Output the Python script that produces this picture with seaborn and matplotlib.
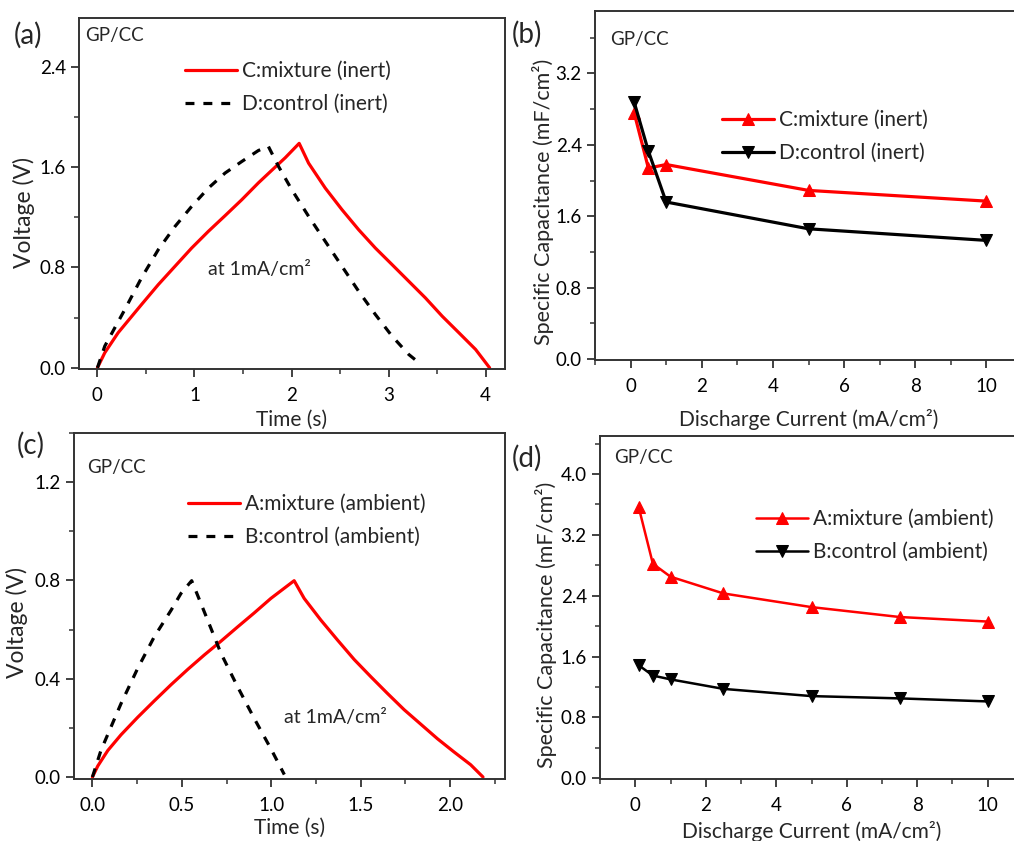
import numpy as np
import pandas as pd
import matplotlib
matplotlib.use("Agg")
import matplotlib.pyplot as plt
import seaborn as sns
from matplotlib.ticker import MultipleLocator, FormatStrFormatter

# ---------------- data ----------------
# (a) GCD inert
a_mix_t = [0.0, 0.076, 0.213, 0.454, 0.627, 0.80, 0.971, 1.143, 1.315, 1.487, 1.659, 1.831, 1.935, 2.079,
           2.176, 2.348, 2.52, 2.692, 2.864, 3.036, 3.208, 3.38, 3.553, 3.725, 3.897, 4.041]
a_mix_v = [0.0, 0.12, 0.279, 0.504, 0.663, 0.81, 0.955, 1.088, 1.213, 1.34, 1.475, 1.60, 1.675, 1.79,
           1.632, 1.433, 1.261, 1.101, 0.955, 0.823, 0.69, 0.557, 0.411, 0.279, 0.146, 0.0]
a_ctl_t = [0.0, 0.076, 0.282, 0.454, 0.627, 0.80, 0.971, 1.143, 1.315, 1.487, 1.659, 1.762,
           1.866, 2.003, 2.176, 2.348, 2.52, 2.692, 2.864, 3.036, 3.208, 3.329]
a_ctl_v = [0.0, 0.173, 0.464, 0.717, 0.942, 1.128, 1.287, 1.433, 1.553, 1.645, 1.733, 1.765,
           1.606, 1.42, 1.208, 1.008, 0.809, 0.61, 0.425, 0.252, 0.106, 0.03]

# (b) capacitance inert
b_current = [0.1, 0.5, 1, 5, 10]
b_mix = [2.76, 2.14, 2.18, 1.89, 1.77]
b_ctl = [2.88, 2.33, 1.76, 1.46, 1.33]

# (c) GCD ambient
c_mix_t = [0.0, 0.030, 0.086, 0.16, 0.253, 0.346, 0.44, 0.533, 0.626, 0.719, 0.812, 0.905, 0.998, 1.128,
           1.184, 1.277, 1.371, 1.464, 1.557, 1.65, 1.743, 1.836, 1.929, 2.022, 2.115, 2.184]
c_mix_v = [0.0, 0.045, 0.108, 0.172, 0.243, 0.31, 0.376, 0.438, 0.497, 0.553, 0.611, 0.668, 0.727, 0.799,
           0.727, 0.639, 0.557, 0.478, 0.408, 0.34, 0.274, 0.215, 0.156, 0.102, 0.05, 0.0]
c_ctl_t = [0.0, 0.048, 0.104, 0.16, 0.253, 0.346, 0.44, 0.495, 0.555,
           0.588, 0.644, 0.719, 0.812, 0.905, 0.998, 1.073]
c_ctl_v = [0.0, 0.109, 0.204, 0.299, 0.442, 0.571, 0.679, 0.747, 0.799,
           0.74, 0.639, 0.503, 0.367, 0.238, 0.115, 0.01]

# (d) capacitance ambient
d_current = [0.1, 0.5, 1, 2.5, 5, 7.5, 10]
d_mix = [3.56, 2.82, 2.65, 2.43, 2.25, 2.12, 2.06]
d_ctl = [1.485, 1.35, 1.30, 1.175, 1.08, 1.05, 1.01]

# ---------------- style ----------------
sns.set_theme(style="ticks")
plt.rcParams['font.family'] = ['Lato', 'DejaVu Sans']

W, H = 1014, 841
fig = plt.figure(figsize=(W / 100, H / 100), dpi=100)

def px_axes(l, t, r, b):
    return fig.add_axes([l / W, 1 - b / H, (r - l) / W, (b - t) / H])

TICK_FS = 13.5
XLAB_FS = 15
VLAB_FS = 16.5
CLAB_FS = 15.5
LEG_FS = 15
NOTE_FS = 14

def style_axes(ax):
    for s in ax.spines.values():
        s.set_linewidth(1.4)
        s.set_color('#333333')
    ax.tick_params(which='major', direction='out', length=6, width=1.3,
                   labelsize=TICK_FS, colors='#333333', labelcolor='black',
                   top=False, right=False)
    ax.tick_params(which='minor', direction='out', length=3.5, width=1.1,
                   colors='#333333', top=False, right=False)
    ax.tick_params(axis='x', which='major', pad=7)

red = '#ff0000'
dash = (0, (2.8, 2.8))

def leg(ax, x, y):
    ax.legend(loc='upper left', bbox_to_anchor=(x, y), frameon=False,
              fontsize=LEG_FS, handlelength=2.5, handletextpad=0.25, borderpad=0,
              borderaxespad=0, labelspacing=0.62)

# ---- (a) ----
ax = px_axes(79, 18, 505, 369)
sns.lineplot(x=a_mix_t, y=a_mix_v, ax=ax, color=red, lw=2.3, label='C:mixture (inert)',
             estimator=None, sort=False)
sns.lineplot(x=a_ctl_t, y=a_ctl_v, ax=ax, color='black', lw=2.3, label='D:control (inert)',
             estimator=None, sort=False, linestyle=dash)
ax.set_xlim(-0.19, 4.2)
ax.set_ylim(-0.01, 2.79)
ax.xaxis.set_major_locator(MultipleLocator(1))
ax.xaxis.set_minor_locator(MultipleLocator(0.5))
ax.yaxis.set_major_locator(MultipleLocator(0.8))
ax.yaxis.set_minor_locator(MultipleLocator(0.4))
ax.yaxis.set_major_formatter(FormatStrFormatter('%.1f'))
ax.set_xlabel('Time (s)', fontsize=XLAB_FS, labelpad=4)
ax.set_ylabel('Voltage (V)', fontsize=VLAB_FS)
ax.yaxis.set_label_coords(-44 / 426, 0.447)
style_axes(ax)
ax.text(1.14, 0.78, 'at 1mA/cm²', fontsize=NOTE_FS, va='center', ha='left')
ax.text(6 / 426, 1 - 17 / 351, 'GP/CC', transform=ax.transAxes, fontsize=13.5, va='center')
leg(ax, (185 - 79) / 426, 1 - (61 - 18) / 351)

# ---- (b) ----
ax = px_axes(595, 11, 1022, 360)
sns.lineplot(x=b_current, y=b_mix, ax=ax, color=red, lw=2.3, marker='^', markersize=9,
             markeredgecolor=red, label='C:mixture (inert)')
sns.lineplot(x=b_current, y=b_ctl, ax=ax, color='black', lw=2.3, marker='v', markersize=9,
             markeredgecolor='black', label='D:control (inert)')
ax.set_xlim(-1, 11)
ax.set_ylim(-0.01, 3.9)
ax.xaxis.set_major_locator(MultipleLocator(2))
ax.xaxis.set_minor_locator(MultipleLocator(1))
ax.yaxis.set_major_locator(MultipleLocator(0.8))
ax.yaxis.set_minor_locator(MultipleLocator(0.4))
ax.yaxis.set_major_formatter(FormatStrFormatter('%.1f'))
ax.set_xlabel('Discharge Current (mA/cm²)', fontsize=XLAB_FS, labelpad=10)
ax.set_ylabel('Specific Capacitance (mF/cm²)', fontsize=CLAB_FS)
ax.yaxis.set_label_coords(-41 / 427, 0.453)
style_axes(ax)
ax.text(15 / 427, 1 - 29 / 349, 'GP/CC', transform=ax.transAxes, fontsize=13.5, va='center')
leg(ax, (722 - 595) / 427, 1 - (110 - 11) / 349)

# ---- (c) ----
ax = px_axes(74, 433, 505, 779)
sns.lineplot(x=c_mix_t, y=c_mix_v, ax=ax, color=red, lw=2.3, label='A:mixture (ambient)',
             estimator=None, sort=False)
sns.lineplot(x=c_ctl_t, y=c_ctl_v, ax=ax, color='black', lw=2.3, label='B:control (ambient)',
             estimator=None, sort=False, linestyle=dash)
ax.set_xlim(-0.103, 2.307)
ax.set_ylim(-0.008, 1.40)
ax.xaxis.set_major_locator(MultipleLocator(0.5))
ax.xaxis.set_minor_locator(MultipleLocator(0.25))
ax.yaxis.set_major_locator(MultipleLocator(0.4))
ax.yaxis.set_minor_locator(MultipleLocator(0.2))
ax.yaxis.set_major_formatter(FormatStrFormatter('%.1f'))
ax.xaxis.set_major_formatter(FormatStrFormatter('%.1f'))
ax.set_xlabel('Time (s)', fontsize=XLAB_FS, labelpad=3)
ax.set_ylabel('Voltage (V)', fontsize=VLAB_FS)
ax.yaxis.set_label_coords(-46 / 431, 0.451)
style_axes(ax)
ax.text(1.07, 0.243, 'at 1mA/cm²', fontsize=NOTE_FS, va='center', ha='left')
ax.text(13 / 431, 1 - 35 / 346, 'GP/CC', transform=ax.transAxes, fontsize=13.5, va='center')
leg(ax, (188 - 74) / 431, 1 - (494 - 433) / 346)

# ---- (d) ----
ax = px_axes(600, 436, 1023, 779)
sns.lineplot(x=d_current, y=d_mix, ax=ax, color=red, lw=1.8, marker='^', markersize=9,
             markeredgecolor=red, label='A:mixture (ambient)')
sns.lineplot(x=d_current, y=d_ctl, ax=ax, color='black', lw=1.8, marker='v', markersize=9,
             markeredgecolor='black', label='B:control (ambient)')
ax.set_xlim(-1, 11)
ax.set_ylim(-0.01, 4.5)
ax.xaxis.set_major_locator(MultipleLocator(2))
ax.xaxis.set_minor_locator(MultipleLocator(1))
ax.yaxis.set_major_locator(MultipleLocator(0.8))
ax.yaxis.set_minor_locator(MultipleLocator(0.4))
ax.yaxis.set_major_formatter(FormatStrFormatter('%.1f'))
ax.set_xlabel('Discharge Current (mA/cm²)', fontsize=XLAB_FS, labelpad=5)
ax.set_ylabel('Specific Capacitance (mF/cm²)', fontsize=CLAB_FS)
ax.yaxis.set_label_coords(-43 / 423, 0.45)
style_axes(ax)
ax.text(14 / 423, 1 - 21 / 343, 'GP/CC', transform=ax.transAxes, fontsize=13.5, va='center')
leg(ax, (756 - 600) / 423, 1 - (509 - 436) / 343)

# panel letters
for s, x, y in [('(a)', 28, 35), ('(b)', 527, 34), ('(c)', 31, 445), ('(d)', 527, 458)]:
    fig.text(x / W, 1 - y / H, s, fontsize=20, ha='center', va='center')

fig.savefig('out.png', dpi=100)
